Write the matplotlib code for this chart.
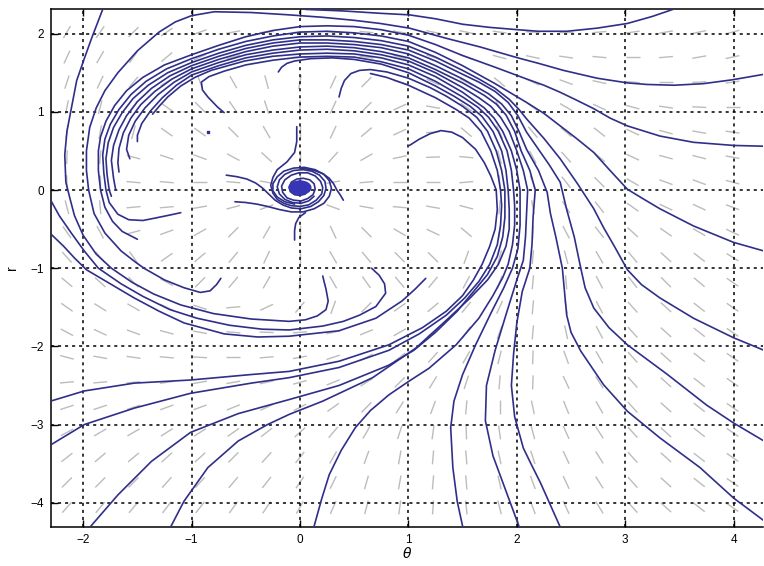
import numpy as np
import matplotlib.pyplot as plt
from matplotlib.collections import LineCollection
from matplotlib.patches import Ellipse

# ---- trajectories (theta, r) ----
T1 = [(3.44, 2.31), (3.25, 2.22), (3.02, 2.13), (2.74, 2.07), (2.46, 2.03), (2.2, 2.03), (2.01, 2.05),
      (1.75, 2.08), (1.5, 2.12), (1.25, 2.19), (1.01, 2.24), (0.74, 2.26), (0.4, 2.29), (0.05, 2.31)]
q1 = [(4.28, 1.48), (3.99, 1.41), (3.72, 1.36), (3.45, 1.34), (3.2, 1.35), (3.02, 1.37), (2.74, 1.43),
      (2.43, 1.53), (2.2, 1.62), (2.01, 1.69), (1.66, 1.83), (1.35, 1.94), (1.01, 2.07), (0.74, 2.13),
      (0.5, 2.17), (0.2, 2.21), (-0.1, 2.24), (-0.45, 2.27), (-0.79, 2.28), (-1.0, 2.23), (-1.15, 2.15),
      (-1.3, 2.02), (-1.5, 1.78), (-1.68, 1.5), (-1.8, 1.27), (-1.88, 1.05), (-1.94, 0.8), (-1.97, 0.5),
      (-1.97, 0.25), (-1.95, 0.0), (-1.9, -0.3), (-1.8, -0.55), (-1.65, -0.78), (-1.52, -0.92), (-1.44, -1.0),
      (-1.25, -1.15), (-1.07, -1.25), (-0.92, -1.31), (-0.83, -1.29), (-0.77, -1.21), (-0.73, -1.13)]
q2 = [(4.28, 0.56), (4.0, 0.57), (3.63, 0.61), (3.32, 0.69), (3.02, 0.82), (2.86, 0.92), (2.71, 1.04),
      (2.55, 1.15), (2.4, 1.25), (2.25, 1.34), (2.09, 1.42), (1.8, 1.57), (1.5, 1.72), (1.25, 1.86),
      (1.0, 1.98), (0.75, 2.05), (0.5, 2.09), (0.25, 2.1), (0.0, 2.09), (-0.25, 2.04), (-0.5, 1.96),
      (-0.75, 1.85), (-1.0, 1.73), (-1.25, 1.6), (-1.45, 1.44), (-1.6, 1.27), (-1.71, 1.08), (-1.79, 0.88),
      (-1.84, 0.68), (-1.86, 0.5), (-1.86, 0.25), (-1.84, 0.0), (-1.8, -0.22), (-1.73, -0.4), (-1.64, -0.53),
      (-1.5, -0.63)]
q3 = [(4.28, -0.78), (4.0, -0.67), (3.63, -0.46), (3.32, -0.24), (3.15, -0.1), (3.02, 0.01), (2.86, 0.25),
      (2.71, 0.48), (2.55, 0.66), (2.4, 0.82), (2.25, 0.98), (2.09, 1.12), (1.8, 1.36), (1.5, 1.59),
      (1.25, 1.76), (1.0, 1.9), (0.75, 1.97), (0.5, 2.01), (0.25, 2.03), (0.0, 2.02), (-0.25, 1.97),
      (-0.5, 1.9), (-0.75, 1.8), (-1.0, 1.68), (-1.23, 1.55), (-1.42, 1.39), (-1.56, 1.22), (-1.67, 1.03),
      (-1.75, 0.84), (-1.8, 0.65), (-1.82, 0.45), (-1.81, 0.22), (-1.79, 0.0), (-1.76, -0.16),
      (-1.68, -0.31), (-1.58, -0.38), (-1.45, -0.39), (-1.34, -0.36), (-1.2, -0.32), (-1.1, -0.29)]
R1 = [(4.28, -2.05), (4.0, -1.89), (3.63, -1.64), (3.32, -1.38), (3.15, -1.21), (3.02, -1.02), (2.9, -0.72),
      (2.8, -0.48), (2.71, -0.24), (2.56, 0.08), (2.4, 0.4), (2.25, 0.66), (2.09, 0.91), (2.02, 1.03),
      (1.93, 1.16), (1.8, 1.3), (1.65, 1.42), (1.5, 1.53), (1.25, 1.7), (1.0, 1.84), (0.75, 1.91), (0.5, 1.95),
      (0.25, 1.97), (0.0, 1.96), (-0.25, 1.92), (-0.5, 1.85), (-0.75, 1.75), (-1.0, 1.63), (-1.22, 1.5),
      (-1.4, 1.34), (-1.54, 1.17), (-1.64, 0.99), (-1.72, 0.8), (-1.77, 0.6), (-1.79, 0.4), (-1.78, 0.2),
      (-1.76, 0.0), (-1.74, -0.08)]
R2 = [(4.28, -3.21), (4.0, -2.98), (3.75, -2.75), (3.39, -2.36), (3.02, -1.98), (2.85, -1.76), (2.71, -1.51),
      (2.63, -1.25), (2.59, -1.0), (2.53, -0.6), (2.46, -0.25), (2.4, 0.1), (2.3, 0.32), (2.21, 0.5),
      (2.09, 0.74), (2.01, 0.95), (1.92, 1.12), (1.8, 1.26), (1.65, 1.38), (1.5, 1.48), (1.25, 1.65),
      (1.0, 1.79), (0.75, 1.86), (0.5, 1.9), (0.25, 1.92), (0.0, 1.92), (-0.25, 1.88), (-0.5, 1.81),
      (-0.75, 1.71), (-1.0, 1.59), (-1.2, 1.46), (-1.37, 1.3), (-1.5, 1.13), (-1.6, 0.95), (-1.67, 0.77),
      (-1.72, 0.57), (-1.74, 0.38), (-1.72, 0.15), (-1.7, 0.0)]
R3 = [(4.28, -4.23), (4.0, -3.94), (3.69, -3.55), (3.32, -3.17), (3.02, -2.83), (2.8, -2.49), (2.59, -2.06),
      (2.5, -1.82), (2.46, -1.6), (2.44, -1.3), (2.42, -1.0), (2.36, -0.6), (2.31, -0.3), (2.28, -0.03),
      (2.2, 0.25), (2.09, 0.52), (2.02, 0.75), (1.95, 0.95), (1.86, 1.1), (1.74, 1.23), (1.5, 1.42),
      (1.25, 1.59), (1.0, 1.74), (0.75, 1.82), (0.5, 1.86), (0.25, 1.88), (0.0, 1.88), (-0.25, 1.84),
      (-0.5, 1.77), (-0.75, 1.67), (-1.0, 1.55), (-1.18, 1.42), (-1.34, 1.26), (-1.47, 1.09), (-1.56, 0.92),
      (-1.63, 0.73), (-1.67, 0.53), (-1.68, 0.35), (-1.67, 0.23)]
c3 = [(2.4, -4.31), (2.31, -4.03), (2.22, -3.75), (2.13, -3.5), (2.06, -3.3), (1.98, -2.9), (1.95, -2.5),
      (1.97, -2.1), (2.0, -1.7), (2.05, -1.3), (2.12, -1.0), (2.14, -0.7), (2.15, -0.35), (2.17, 0.0),
      (2.12, 0.25), (2.04, 0.5), (1.98, 0.75), (1.9, 0.96), (1.81, 1.1), (1.7, 1.21), (1.5, 1.37),
      (1.25, 1.54), (1.0, 1.69), (0.75, 1.77), (0.5, 1.82), (0.25, 1.84), (0.0, 1.83), (-0.25, 1.79),
      (-0.5, 1.73), (-0.75, 1.63), (-1.0, 1.51), (-1.16, 1.38), (-1.31, 1.22), (-1.43, 1.05), (-1.52, 0.88),
      (-1.58, 0.7), (-1.6, 0.52), (-1.57, 0.4)]
c2 = [(2.02, -4.3), (1.9, -3.85), (1.78, -3.4), (1.71, -2.95), (1.72, -2.5), (1.8, -2.05), (1.91, -1.55),
      (2.0, -1.15), (2.06, -0.9), (2.08, -0.6), (2.09, -0.3), (2.1, 0.0), (2.06, 0.25), (2.0, 0.5),
      (1.93, 0.75), (1.85, 0.93), (1.76, 1.07), (1.65, 1.18), (1.5, 1.31), (1.25, 1.5), (1.0, 1.65),
      (0.75, 1.73), (0.5, 1.78), (0.25, 1.8), (0.0, 1.79), (-0.25, 1.75), (-0.5, 1.69), (-0.75, 1.59),
      (-1.0, 1.47), (-1.14, 1.34), (-1.27, 1.18), (-1.38, 1.01), (-1.46, 0.85), (-1.5, 0.7), (-1.5, 0.62)]
c1 = [(1.5, -4.3), (1.45, -3.98), (1.41, -3.55), (1.39, -3.04), (1.42, -2.7), (1.5, -2.36), (1.62, -1.98),
      (1.77, -1.55), (1.88, -1.25), (1.96, -1.0), (2.01, -0.75), (2.03, -0.45), (2.03, -0.2), (2.03, 0.0),
      (2.0, 0.25), (1.95, 0.5), (1.87, 0.75), (1.79, 0.92), (1.7, 1.05), (1.6, 1.15), (1.5, 1.25),
      (1.25, 1.45), (1.0, 1.6), (0.75, 1.69), (0.5, 1.74), (0.25, 1.75), (0.0, 1.74), (-0.25, 1.71),
      (-0.51, 1.65), (-0.82, 1.53), (-0.97, 1.44), (-1.1, 1.33), (-1.22, 1.19), (-1.3, 1.07), (-1.36, 0.97)]
bt3 = [(0.13, -4.3), (0.2, -3.95), (0.27, -3.64), (0.38, -3.33), (0.51, -3.04), (0.65, -2.82), (0.82, -2.62),
       (1.0, -2.45), (1.19, -2.28), (1.44, -1.98), (1.65, -1.64), (1.78, -1.35), (1.87, -1.12), (1.92, -0.95),
       (1.96, -0.7), (1.98, -0.45), (1.98, -0.2), (1.97, 0.0), (1.95, 0.25), (1.91, 0.5), (1.83, 0.75),
       (1.74, 0.93), (1.64, 1.06), (1.5, 1.19), (1.25, 1.39), (1.0, 1.55), (0.75, 1.64), (0.5, 1.7),
       (0.25, 1.71), (0.0, 1.7), (-0.25, 1.66), (-0.5, 1.6), (-0.7, 1.52), (-0.84, 1.45), (-0.91, 1.38),
       (-0.9, 1.28), (-0.85, 1.19), (-0.76, 1.06), (-0.7, 0.99)]
bt2 = [(-1.19, -4.3), (-1.07, -3.98), (-0.85, -3.55), (-0.57, -3.21), (-0.3, -3.0), (-0.1, -2.87),
       (0.21, -2.7), (0.67, -2.4), (1.07, -2.02), (1.37, -1.64), (1.57, -1.38), (1.73, -1.15), (1.83, -0.95),
       (1.9, -0.72), (1.93, -0.5), (1.93, -0.25), (1.92, 0.0), (1.9, 0.25), (1.86, 0.5), (1.78, 0.75),
       (1.68, 0.94), (1.57, 1.07), (1.42, 1.2), (1.25, 1.33), (1.0, 1.5), (0.75, 1.61), (0.5, 1.67),
       (0.3, 1.69), (0.1, 1.68), (-0.05, 1.65), (-0.12, 1.62), (-0.17, 1.57), (-0.2, 1.51)]
bt1 = [(-1.93, -4.3), (-1.68, -3.9), (-1.37, -3.47), (-1.01, -3.1), (-0.57, -2.86), (-0.1, -2.68),
       (0.36, -2.5), (0.82, -2.24), (1.05, -2.05), (1.25, -1.82), (1.45, -1.55), (1.6, -1.3), (1.73, -1.08),
       (1.82, -0.85), (1.87, -0.6), (1.89, -0.35), (1.89, 0.0), (1.86, 0.25), (1.81, 0.5), (1.73, 0.75),
       (1.63, 0.93), (1.5, 1.07), (1.35, 1.2), (1.2, 1.31), (1.0, 1.43), (0.8, 1.51), (0.65, 1.54),
       (0.55, 1.53), (0.47, 1.49), (0.41, 1.4), (0.38, 1.3), (0.36, 1.19)]
le2 = [(-2.3, -3.26), (-1.99, -3.0), (-1.53, -2.79), (-1.01, -2.6), (-0.45, -2.47), (-0.1, -2.4),
       (0.36, -2.27), (0.82, -2.05), (1.1, -1.84), (1.35, -1.6), (1.52, -1.38), (1.65, -1.17), (1.75, -0.95),
       (1.82, -0.7), (1.85, -0.45), (1.86, -0.2), (1.85, 0.0), (1.82, 0.25), (1.76, 0.5), (1.67, 0.75),
       (1.56, 0.92), (1.44, 1.03), (1.25, 1.18), (1.0, 1.34), (0.8, 1.44), (0.65, 1.49)]
le1 = [(-2.3, -2.7), (-1.99, -2.57), (-1.53, -2.47), (-1.01, -2.43), (-0.45, -2.36), (-0.1, -2.32),
       (0.36, -2.19), (0.82, -1.98), (1.13, -1.76), (1.35, -1.55), (1.5, -1.35), (1.6, -1.15), (1.68, -0.95),
       (1.75, -0.72), (1.8, -0.5), (1.82, -0.25), (1.81, 0.0), (1.76, 0.18), (1.7, 0.35), (1.62, 0.52),
       (1.5, 0.67), (1.4, 0.74), (1.3, 0.76), (1.2, 0.72), (1.1, 0.65), (1.01, 0.57)]
A = [(-1.82, 2.31), (-1.92, 1.95), (-1.99, 1.68), (-2.06, 1.4), (-2.11, 1.04), (-2.15, 0.75), (-2.17, 0.45),
     (-2.16, 0.1), (-2.12, -0.12), (-2.08, -0.33), (-2.0, -0.58), (-1.88, -0.82), (-1.74, -1.0),
     (-1.55, -1.18), (-1.35, -1.33), (-1.1, -1.47), (-0.8, -1.58), (-0.45, -1.65), (-0.1, -1.68),
     (0.05, -1.66), (0.16, -1.61), (0.24, -1.53), (0.26, -1.42), (0.24, -1.27), (0.22, -1.16), (0.21, -1.1)]
ll2 = [(-2.3, -0.13), (-2.22, -0.33), (-2.11, -0.55), (-1.99, -0.78), (-1.86, -1.0), (-1.65, -1.2),
       (-1.45, -1.36), (-1.2, -1.53), (-0.95, -1.64), (-0.65, -1.73), (-0.35, -1.78), (-0.1, -1.79),
       (0.21, -1.74), (0.4, -1.68), (0.55, -1.6), (0.7, -1.49), (0.79, -1.32), (0.78, -1.2), (0.73, -1.09),
       (0.66, -1.0)]
ll3 = [(-2.3, -0.56), (-2.18, -0.72), (-2.08, -0.87), (-1.97, -1.02), (-1.75, -1.2), (-1.53, -1.38),
       (-1.3, -1.55), (-1.07, -1.7), (-0.7, -1.84), (-0.39, -1.88), (-0.1, -1.87), (0.36, -1.8), (0.7, -1.64),
       (0.94, -1.42), (1.06, -1.27), (1.16, -1.13)]

# curves winding into the focus at the origin
sa = [(-0.03, 0.81), (-0.03, 0.62), (-0.05, 0.48), (-0.12, 0.36), (-0.21, 0.26), (-0.25, 0.16), (-0.27, 0.06),
      (-0.25, -0.04), (-0.21, -0.12), (-0.15, -0.17), (-0.08, -0.2), (0.0, -0.21), (0.08, -0.19),
      (0.15, -0.13), (0.2, -0.05), (0.21, 0.03), (0.19, 0.11), (0.14, 0.18), (0.07, 0.22), (-0.01, 0.22),
      (-0.08, 0.19), (-0.14, 0.13), (-0.17, 0.05), (-0.16, -0.03), (-0.12, -0.1), (-0.06, -0.13),
      (0.01, -0.14), (0.07, -0.11), (0.12, -0.06), (0.14, 0.01), (0.13, 0.08), (0.09, 0.13), (0.03, 0.15),
      (-0.03, 0.14), (-0.08, 0.1), (-0.1, 0.04), (-0.09, -0.02), (-0.05, -0.06), (0.0, -0.07), (0.05, -0.05),
      (0.07, 0.0), (0.06, 0.05), (0.02, 0.08), (-0.02, 0.07)]
sb = [(-0.68, 0.19), (-0.58, 0.17), (-0.49, 0.14), (-0.41, 0.09), (-0.35, 0.03), (-0.29, -0.05),
      (-0.23, -0.13), (-0.16, -0.19), (-0.08, -0.23), (0.01, -0.24), (0.1, -0.21), (0.17, -0.15),
      (0.22, -0.07), (0.24, 0.02), (0.23, 0.11), (0.18, 0.19), (0.11, 0.24), (0.03, 0.26), (-0.06, 0.25),
      (-0.14, 0.2), (-0.19, 0.13), (-0.21, 0.04), (-0.19, -0.05), (-0.14, -0.12), (-0.07, -0.16),
      (0.01, -0.17), (0.08, -0.14), (0.13, -0.08)]
sc = [(-0.6, -0.15), (-0.5, -0.16), (-0.4, -0.18), (-0.3, -0.21), (-0.19, -0.25), (-0.08, -0.28),
      (0.03, -0.28), (0.13, -0.24), (0.22, -0.17), (0.27, -0.08), (0.29, 0.02), (0.27, 0.12), (0.22, 0.2),
      (0.14, 0.26), (0.04, 0.29), (-0.06, 0.28), (-0.15, 0.24), (-0.21, 0.17), (-0.25, 0.08), (-0.25, -0.01),
      (-0.21, -0.09), (-0.14, -0.15), (-0.05, -0.18)]
sd = [(-0.05, -0.64), (-0.05, -0.52), (-0.04, -0.43), (-0.01, -0.35), (0.05, -0.29)]
se = [(0.4, -0.13), (0.37, -0.06), (0.34, 0.0), (0.31, 0.08), (0.27, 0.15), (0.21, 0.21), (0.13, 0.25),
      (0.06, 0.27), (0.0, 0.28)]

curves = [T1, q1, q2, q3, R1, R2, R3, c3, c2, c1, bt3, bt2, bt1, le2, le1, A, ll2, ll3, sa, sb, sc, sd, se]

# ---- direction field: on-screen angle (deg) of the grey dashes, row by row from the top ----
field_angle = [
    [60, 55, 45, 35, 20, 10, 5, 0, -3, -5, -10, -12, -12, -8, -3, 0, 5, 8, 10, 12, 15],
    [65, 60, 55, 40, 25, 15, 8, 2, -3, -8, -15, -18, -20, -15, -12, -8, -5, 0, 5, 10, 12],
    [72, 65, 50, 30, -70, -60, -75, 80, 65, 45, -15, -25, -28, -40, -25, -20, -12, -5, 0, 3, 8],
    [78, 75, 58, -35, -45, -55, -72, 88, 65, 45, 25, -10, -35, -58, -35, -30, -25, -15, -8, -3, 0],
    [82, 80, 75, -35, -35, -45, -60, 90, 65, 40, 25, 5, -40, -65, -50, -40, -38, -25, -15, -10, -8],
    [88, 85, -15, -18, -20, -28, -42, 90, 48, 30, 12, 2, -5, -75, -62, -48, -40, -25, -15, -14, -10],
    [-88, 90, -5, -5, 0, -5, -10, 90, 10, 5, 0, 0, 5, -88, -68, -52, -45, -30, -20, -20, -15],
    [-75, -85, 5, 5, 10, 15, 20, 90, -20, -10, -5, -10, -15, 85, -80, -58, -52, -35, -25, -25, -20],
    [-55, -62, 15, 20, 30, 45, 60, 90, -65, -45, -30, -25, -40, 80, 88, -62, -52, -42, -35, -30, -25],
    [-48, -50, -55, 35, 40, 50, 65, 90, -60, -50, -45, -45, 70, 75, 85, -75, -60, -50, -42, -38, -32],
    [-40, -42, -45, -28, 45, 50, 60, 85, -60, -55, -50, 50, 62, 70, 85, -85, -62, -52, -45, -40, -35],
    [-35, -32, -30, -25, -18, 5, 25, 50, 70, 45, 35, 40, 50, 65, 85, -80, -62, -48, -42, -38, -35],
    [-28, -25, -20, -15, -10, -5, -2, 5, 12, 22, 30, 40, 55, 70, 85, -78, -62, -48, -42, -38, -35],
    [-15, -10, -8, -5, -3, 0, 5, 10, 18, 28, 38, 48, 60, 76, 88, -70, -60, -48, -42, -38, -35],
    [5, 5, 5, 8, 10, 10, 12, 15, 22, 32, 45, 58, 72, 85, 88, -65, -58, -48, -42, -38, -35],
    [18, 18, 18, 20, 20, 22, 25, 28, 35, 45, 58, 70, 85, 90, -78, -68, -60, -48, -42, -38, -35],
    [28, 30, 30, 32, 32, 35, 38, 42, 50, 60, 72, 82, -88, -82, -75, -66, -58, -48, -42, -38, -35],
    [38, 40, 40, 42, 42, 45, 48, 52, 60, 70, 80, 85, -85, -78, -72, -65, -58, -48, -42, -38, -35],
    [45, 45, 45, 48, 48, 50, 52, 56, 64, 74, 80, 85, -85, -77, -70, -65, -58, -48, -42, -38, -35],
    [48, 50, 50, 52, 52, 54, 56, 60, 66, 75, 82, 86, -84, -76, -70, -65, -58, -48, -42, -38, -35],
]

x_ticks = [-2, -1, 0, 1, 2, 3, 4]
y_ticks = [-4, -3, -2, -1, 0, 1, 2]

line_blue = '#2f2f8a'
plt.rcParams['font.family'] = ['Liberation Sans', 'DejaVu Sans']

fig = plt.figure(figsize=(7.64, 5.66), dpi=100)
ax = fig.add_axes([51 / 764, 39 / 566, 712 / 764, 518 / 566])
xmin, xmax, ymin, ymax = -2.297, 4.271, -4.31, 2.315
ax.set_xlim(xmin, xmax)
ax.set_ylim(ymin, ymax)

# grey direction dashes, fixed length on screen
px_x = 712 / (xmax - xmin)
px_y = 518 / (ymax - ymin)
gx = np.linspace(-2.15, 3.99, 21)
gy = np.linspace(2.02, -4.06, 20)
ang = np.radians(np.array(field_angle, dtype=float))
half = 7.0
segs = []
for j, yv in enumerate(gy):
    for k, xv in enumerate(gx):
        dx = half * np.cos(ang[j, k]) / px_x
        dy = half * np.sin(ang[j, k]) / px_y
        segs.append([(xv - dx, yv - dy), (xv + dx, yv + dy)])
ax.add_collection(LineCollection(segs, colors='#bcbcbc', linewidths=1.0, zorder=1))

for c in curves:
    xs, ys = zip(*c)
    ax.plot(xs, ys, color=line_blue, lw=1.2, zorder=3,
            solid_capstyle='round', solid_joinstyle='round')

ax.add_patch(Ellipse((0.0, 0.03), 0.2, 0.17, color='#3535b5', zorder=4))
ax.plot([-0.85], [0.74], 's', ms=1.6, color=line_blue, zorder=3)

ax.set_xticks(x_ticks)
ax.set_yticks(y_ticks)
ax.grid(True, color='black', linestyle=(0, (2, 2.6)), linewidth=1.1)
ax.set_axisbelow(False)
for gl in ax.get_xgridlines() + ax.get_ygridlines():
    gl.set_zorder(2)
ax.tick_params(direction='in', length=5, width=1, labelsize=8.5, top=True, pad=5)
ax.spines['right'].set_visible(False)
for s in ['left', 'bottom', 'top']:
    ax.spines[s].set_linewidth(1.1)
ax.set_xlabel(r'$\theta$', fontsize=10, labelpad=0)
ax.set_ylabel('r', fontsize=10, labelpad=8)

fig.savefig('out.png', dpi=100)
